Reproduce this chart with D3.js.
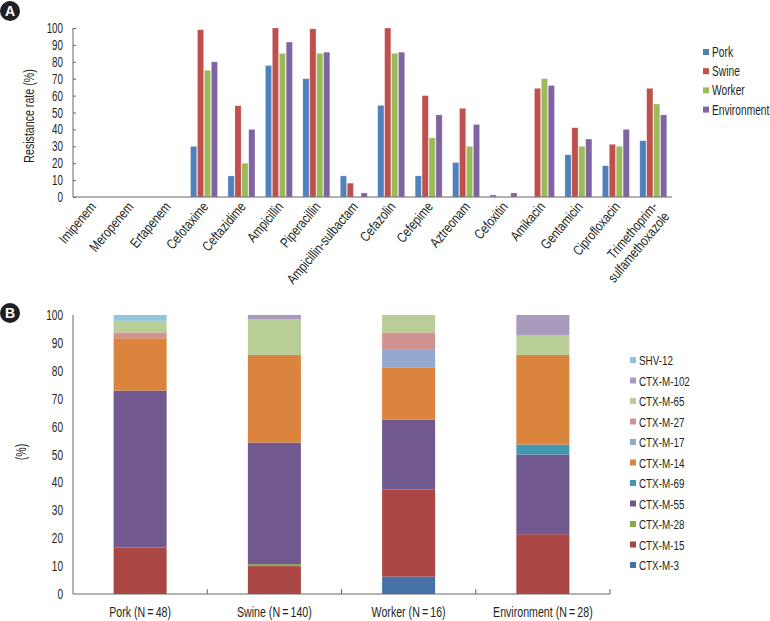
<!DOCTYPE html>
<html>
<head>
<meta charset="utf-8">
<script src="https://cdn.jsdelivr.net/npm/d3@7"></script>
<style>
  body { margin: 0; background: #fff; }
  svg { display: block; font-family: "Liberation Sans", Arial, sans-serif; }
</style>
</head>
<body>
<svg id="chart" width="770" height="621"></svg>
<script>
// ---------- Panel A data ----------
const antibiotics = ["Imipenem","Meropenem","Ertapenem","Cefotaxime","Ceftazidime","Ampicillin","Piperacillin","Ampicillin-sulbactam","Cefazolin","Cefepime","Aztreonam","Cefoxitin","Amikacin","Gentamicin","Ciprofloxacin","Trimethoprim-\nsulfamethoxazole"];
const sourcesA = ["Pork","Swine","Worker","Environment"];
const pork        = [0,0,0,30,12.5,77.8,70,12.5,54.2,12.5,20.4,1.2,0,25,18.5,33.3];
const swine       = [0,0,0,99,54,100,99.5,8.2,100,60,52.5,0,64.3,41,31.2,64.3];
const worker      = [0,0,0,75,20,85,85,0,85,35,30,0,70,30,30,55];
const environment = [0,0,0,80,40,91.7,85.7,2.4,85.7,48.6,42.9,2.4,66,34.3,40,48.6];
const yTicksA = [0,10,20,30,40,50,60,70,80,90,100];

// ---------- Panel B data ----------
const groupsB = ["Pork (N\u2009=\u200948)","Swine (N\u2009=\u2009140)","Worker (N\u2009=\u200916)","Environment (N\u2009=\u200928)"];
const genotypes = ["CTX-M-3","CTX-M-15","CTX-M-28","CTX-M-55","CTX-M-69","CTX-M-14","CTX-M-17","CTX-M-27","CTX-M-65","CTX-M-102","SHV-12"];
const ctxm3   = [0,0,6.25,0];
const ctxm15  = [16.67,10,31.25,21.43];
const ctxm28  = [0,0.71,0,0];
const ctxm55  = [56.25,43.57,25,28.57];
const ctxm69  = [0,0,0,3.57];
const ctxm14  = [18.75,31.43,18.75,32.14];
const ctxm17  = [0,0,6.25,0];
const ctxm27  = [2.08,0,6.25,0];
const ctxm65  = [4.17,12.86,6.25,7.14];
const ctxm102 = [0,1.43,0,7.14];
const shv12   = [2.08,0,0,0];
const yTicksB = [0,10,20,30,40,50,60,70,80,90,100];

const colorsA = ["#4f81bd","#c0504d","#9bbb59","#8064a2"];
const colorsB = ["#4572a7","#aa4643","#89a54e","#71588f","#4198af","#db843d","#93a9cf","#d19392","#b9cd96","#a99bbd","#92c5d9"];

const svg = d3.select("#chart");
const axisColor = "#666";
const textColor = "#231f20";

// narrow text helper (horizontal condensation mimics a narrow typeface)
function ntext(x, y, str, opts = {}) {
  const rot = opts.rotate || 0;
  const sx = opts.sx || 0.76;
  const g = svg.append("g").attr("transform", `translate(${x},${y}) rotate(${rot}) scale(${sx},1)`);
  const t = g.append("text")
    .attr("text-anchor", opts.anchor || "start")
    .attr("font-size", opts.size || 14)
    .attr("fill", textColor);
  const lines = String(str).split("\n");
  lines.forEach((ln, k) => {
    t.append("tspan").attr("x", 0).attr("dy", k === 0 ? 0 : "1.1em").text(ln);
  });
  return t;
}

function badge(x, y, letter) {
  svg.append("circle").attr("cx", x).attr("cy", y).attr("r", 10).attr("fill", "#231f20");
  svg.append("text").attr("x", x).attr("y", y + 5).attr("text-anchor", "middle")
    .attr("fill", "#fff").attr("font-weight", "bold").attr("font-size", 14).text(letter);
}

// ================= Panel A =================
badge(10, 11, "A");
const seriesA = [pork, swine, worker, environment];
const xA = d3.scaleBand().domain(antibiotics).range([73, 672]).padding(0);
const xInner = d3.scaleBand().domain(sourcesA).range([0, 27]).paddingInner(0.1);
const yA = d3.scaleLinear().domain([0, 100]).range([197, 28]);

antibiotics.forEach((ab, i) => {
  const gx = xA(ab) + xA.bandwidth() / 2 - 13.5;
  sourcesA.forEach((s, j) => {
    const v = seriesA[j][i];
    if (v <= 0) return;
    svg.append("rect")
      .attr("x", gx + xInner(s))
      .attr("y", yA(v))
      .attr("width", xInner.bandwidth())
      .attr("height", yA(0) - yA(v))
      .attr("fill", colorsA[j])
      .attr("stroke", "rgba(255,255,255,0.45)")
      .attr("stroke-width", 0.6);
  });
});

// y axis A
const yAxisA = d3.axisLeft(yA).tickValues(yTicksA).tickSize(-3).tickFormat("");
const yAG = svg.append("g").attr("transform", "translate(73,0)").call(yAxisA);
yAG.select(".domain").attr("stroke", axisColor).attr("d", "M0,28V197");
yAG.selectAll(".tick line").attr("stroke", axisColor);
yTicksA.forEach(v => ntext(63, yA(v) + 5, v, { anchor: "end", size: 14, sx: 0.7 }));

// x axis A
svg.append("line").attr("x1", 73).attr("x2", 672).attr("y1", 197).attr("y2", 197).attr("stroke", axisColor);
antibiotics.forEach(ab => {
  const cx = xA(ab) + xA.bandwidth() / 2 + 5;
  ntext(cx, 207, ab, { anchor: "end", size: 14, sx: 0.8, rotate: -50 });
});

ntext(34, 116, "Resistance rate (%)", { anchor: "middle", size: 14, sx: 0.76, rotate: -90 });

// legend A
sourcesA.forEach((s, j) => {
  const y = 52 + j * 19.2;
  svg.append("rect").attr("x", 703).attr("y", y - 3).attr("width", 6).attr("height", 6).attr("fill", colorsA[j]);
  ntext(712, y + 5, s, { size: 14, sx: 0.73 });
});

// ================= Panel B =================
badge(10, 313, "B");
const seriesBArr = [ctxm3, ctxm15, ctxm28, ctxm55, ctxm69, ctxm14, ctxm17, ctxm27, ctxm65, ctxm102, shv12];
const tableB = groupsB.map((g, i) => {
  const row = { group: g };
  genotypes.forEach((gt, k) => row[gt] = seriesBArr[k][i]);
  return row;
});
const stackB = d3.stack().keys(genotypes)(tableB);
const xB = d3.scaleBand().domain(groupsB).range([73, 610]).padding(0);
const yB = d3.scaleLinear().domain([0, 100]).range([594, 315]);
const barW = xB.bandwidth() * 0.395;

stackB.forEach((layer, k) => {
  layer.forEach((d, i) => {
    if (d[1] - d[0] <= 0) return;
    svg.append("rect")
      .attr("x", xB(groupsB[i]) + xB.bandwidth() / 2 - barW / 2)
      .attr("y", yB(d[1]))
      .attr("width", barW)
      .attr("height", yB(d[0]) - yB(d[1]))
      .attr("fill", colorsB[k]);
  });
});

const yAxisB = d3.axisLeft(yB).tickValues(yTicksB).tickSize(0).tickFormat("");
const yBG = svg.append("g").attr("transform", "translate(73,0)").call(yAxisB);
yBG.select(".domain").attr("stroke", axisColor).attr("d", "M0,315V594");
yTicksB.forEach(v => ntext(63, yB(v) + 5, v, { anchor: "end", size: 14, sx: 0.72 }));

svg.append("line").attr("x1", 73).attr("x2", 610).attr("y1", 594).attr("y2", 594).attr("stroke", axisColor);
groupsB.forEach(g => {
  const xr = xB(g) + xB.bandwidth();
  svg.append("line").attr("x1", xr).attr("x2", xr).attr("y1", 594).attr("y2", 589).attr("stroke", axisColor);
  ntext(xB(g) + xB.bandwidth() / 2, 617, g, { anchor: "middle", size: 14, sx: 0.76 });
});

ntext(26, 452, "(%)", { anchor: "middle", size: 14, sx: 0.76, rotate: -90 });

// legend B (top to bottom: reverse stack order)
const legendB = genotypes.slice().reverse();
legendB.forEach((gt, j) => {
  const y = 360 + j * 20.5;
  const k = genotypes.indexOf(gt);
  svg.append("rect").attr("x", 630).attr("y", y - 3).attr("width", 6).attr("height", 6).attr("fill", colorsB[k]);
  ntext(639, y + 5, gt, { size: 13.5, sx: 0.73 });
});
</script>
</body>
</html>
